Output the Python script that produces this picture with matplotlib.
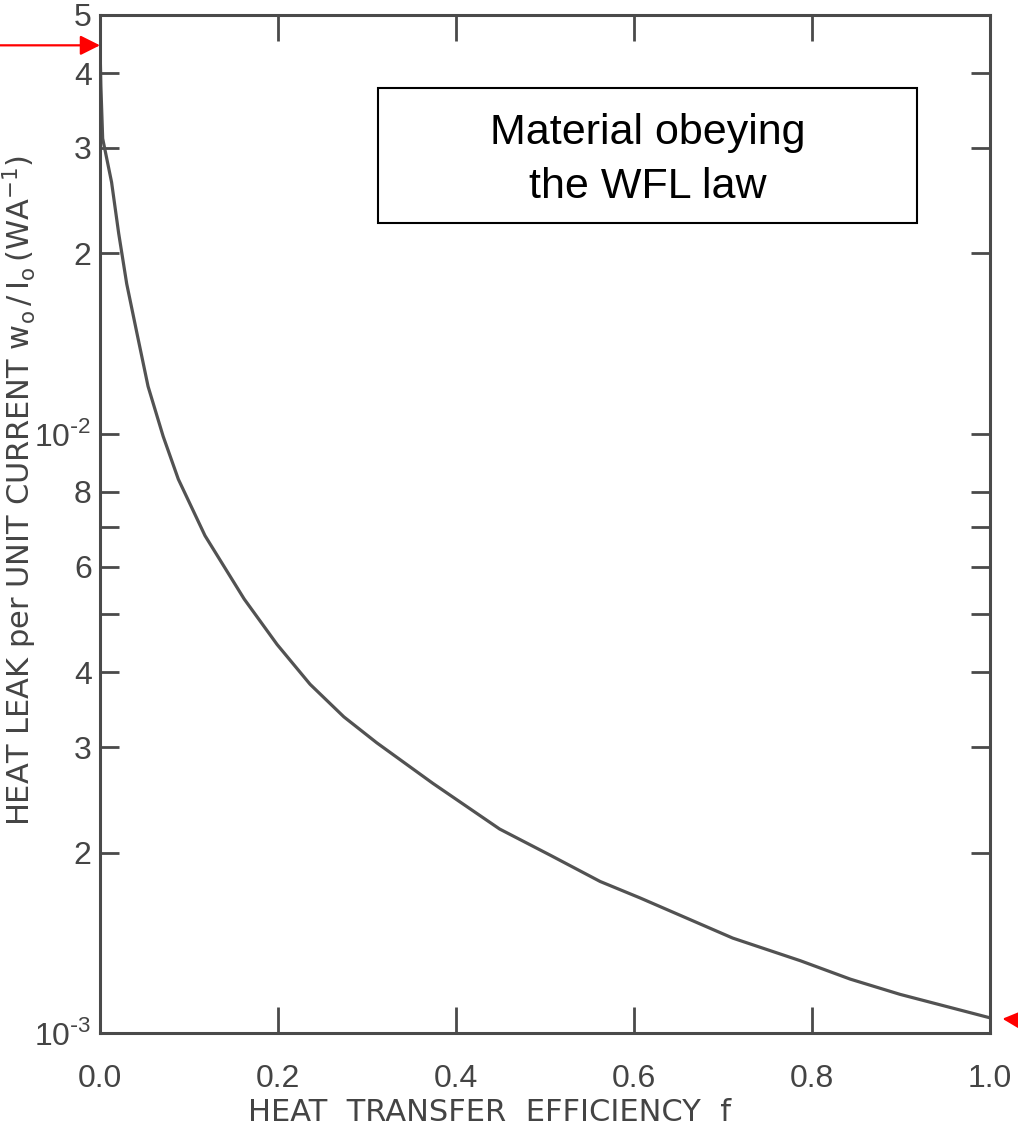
import matplotlib
matplotlib.use("Agg")
import matplotlib.pyplot as plt
from matplotlib.patches import Rectangle
from matplotlib.ticker import FixedLocator, FixedFormatter, NullFormatter

### Data
# heat transfer efficiency f
eff = [0.0, 0.001, 0.003, 0.013, 0.021, 0.030, 0.042, 0.054, 0.071, 0.088,
       0.118, 0.162, 0.199, 0.236, 0.274, 0.311, 0.374, 0.449, 0.506, 0.562,
       0.607, 0.711, 0.787, 0.843, 0.899, 1.0]
# heat leak per unit current w0/I0 (W/A)
heat_leak = [4.45e-2, 3.8e-2, 3.11e-2, 2.63e-2, 2.16e-2, 1.78e-2, 1.46e-2, 1.20e-2,
             9.9e-3, 8.4e-3, 6.76e-3, 5.3e-3, 4.45e-3, 3.82e-3, 3.37e-3, 3.05e-3,
             2.61e-3, 2.19e-3, 1.98e-3, 1.79e-3, 1.68e-3, 1.44e-3, 1.32e-3, 1.23e-3,
             1.16e-3, 1.06e-3]

x_ticks = [0.0, 0.2, 0.4, 0.6, 0.8, 1.0]
x_ticklabels = ["0.0", "0.2", "0.4", "0.6", "0.8", "1.0"]
y_ticks = [1e-3, 2e-3, 3e-3, 4e-3, 5e-3, 6e-3, 7e-3, 8e-3,
           1e-2, 2e-2, 3e-2, 4e-2, 5e-2]
y_ticklabels = [r"10$^{\mathregular{\text{-}3}}$", "2", "3", "4", "", "6", "", "8",
                r"10$^{\mathregular{\text{-}2}}$", "2", "3", "4", "5"]

### Style
ink = "#4a4a4a"
label_ink = "#444444"
tick_font = ["Liberation Sans", "DejaVu Sans"]

fig = plt.figure(figsize=(10.18, 11.39), dpi=100)
ax = fig.add_axes([100 / 1018, 106 / 1139, 890 / 1018, 1018 / 1139])

ax.plot(eff, heat_leak, color="#525252", lw=2.3, solid_joinstyle="round",
        solid_capstyle="round")

ax.set_yscale("log")
ax.set_xlim(0, 1.0)
ax.set_ylim(1e-3, 5e-2)

ax.xaxis.set_major_locator(FixedLocator(x_ticks))
ax.xaxis.set_major_formatter(FixedFormatter(x_ticklabels))
ax.yaxis.set_major_locator(FixedLocator(y_ticks))
ax.yaxis.set_major_formatter(FixedFormatter(y_ticklabels))
ax.yaxis.set_minor_locator(FixedLocator([]))
ax.yaxis.set_minor_formatter(NullFormatter())

for s in ax.spines.values():
    s.set_color(ink)
    s.set_linewidth(2.2)

ax.tick_params(axis="x", direction="in", length=19, width=2, color=ink,
               top=True, labelsize=23, labelcolor=label_ink, pad=22)
ax.tick_params(axis="y", direction="in", length=14, width=2, color=ink,
               right=True, labelsize=23, labelcolor=label_ink, pad=6)
for lab in ax.get_xticklabels() + ax.get_yticklabels():
    lab.set_family(tick_font)

ax.set_xlabel("HEAT  TRANSFER  EFFICIENCY  f", fontsize=22, color=label_ink,
              family="DejaVu Sans")
ax.xaxis.set_label_coords(0.438, -0.064)
ax.set_ylabel(r"HEAT LEAK per UNIT CURRENT $\mathregular{w_o\,/\,I_o\,(WA^{-1})}$",
              fontsize=22, color=label_ink, family="DejaVu Sans")
ax.yaxis.set_label_coords(-0.069, 0.533)

# annotation box
ax.add_patch(Rectangle((0.312, 0.796), 0.606, 0.132, transform=ax.transAxes,
                       fill=False, edgecolor="black", lw=1.5, zorder=5))
ax.text(0.615, 0.8576, "Material obeying\nthe WFL law", transform=ax.transAxes,
        ha="center", va="center", fontsize=31, family="Liberation Sans",
        linespacing=1.45, color="black")

# red arrows
arrow_style = dict(arrowstyle="-|>,head_length=0.4,head_width=0.2", color="red",
                   lw=1.6, mutation_scale=30, shrinkA=0, shrinkB=0)
ax.annotate("", xy=(0.0, heat_leak[0]), xycoords="data",
            xytext=(-76, 0), textcoords="offset points",
            arrowprops=arrow_style, annotation_clip=False)
ax.annotate("", xy=(1.0, heat_leak[-1]), xycoords="data",
            xytext=(40, -3), textcoords="offset points",
            arrowprops=dict(arrow_style, shrinkB=9), annotation_clip=False)

fig.savefig("out.png", dpi=100)
